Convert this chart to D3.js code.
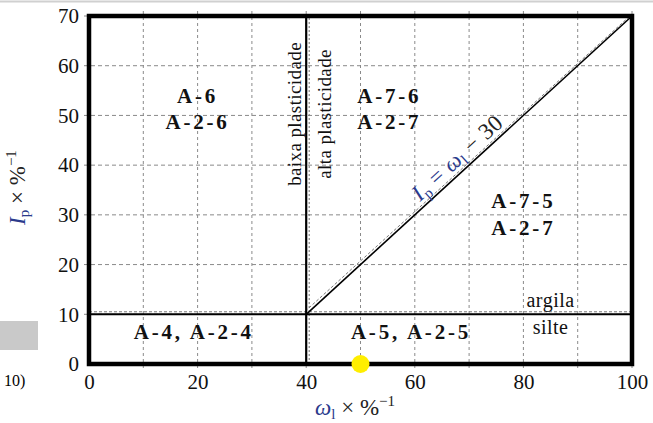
<!DOCTYPE html>
<html>
<head>
<meta charset="utf-8" />
<title>Carta de plasticidade AASHTO</title>
<script src="https://cdn.jsdelivr.net/npm/d3@7"></script>
<style>
body{margin:0;background:#fff;}
</style>
</head>
<body>
<div id="chart"></div>
<script>
var w=653,h=423;
var serif="'Liberation Serif','Times New Roman',serif";

// ticks on both axes
var xTicks=[0,20,40,60,80,100];
var yTicks=[0,10,20,30,40,50,60,70];
var gridX=[10,20,30,40,50,60,70,80,90,100];
var gridY=[10,20,30,40,50,60,70];

// group zones: label lines and where they sit (wl, Ip)
var groupNames=[["A-6","A-2-6"],["A-7-6","A-2-7"],["A-7-5","A-2-7"],["A-4, A-2-4"],["A-5, A-2-5"]];
var groupWl=[20,55.3,80,19.3,59.3];
var groupIp=[52.5,52.5,31.3,5,5];

// boundaries: wl=40, Ip=10, Ip=wl-30
var wlLimit=40, ipLimit=10, lineOffset=30;
var marker=[50,0];

var x=d3.scaleLinear().domain([0,100]).range([89,632]);
var y=d3.scaleLinear().domain([0,70]).range([364,16]);

var svg=d3.select('#chart').append('svg')
  .attr('width',w).attr('height',h)
  .style('font-family',serif);

// bits of the screenshot around the chart
svg.append('line').attr('x1',0).attr('x2',w).attr('y1',1.5).attr('y2',1.5)
  .attr('stroke','#d0d0d0').attr('stroke-width',2);
svg.append('rect').attr('x',0).attr('y',321).attr('width',38).attr('height',29)
  .attr('fill','#c9c9c9');
svg.append('text').attr('x',4).attr('y',386).style('font-size','16px').text('10)');

// grid
svg.append('g').selectAll('line').data(gridX).enter().append('line')
  .attr('x1',function(d){return x(d);}).attr('x2',function(d){return x(d);})
  .attr('y1',y(0)+4).attr('y2',y(70)-5)
  .attr('stroke','#8a8a8a').attr('stroke-width',1).attr('stroke-dasharray','3,3');
svg.append('g').selectAll('line').data(gridY).enter().append('line')
  .attr('x1',x(0)-5).attr('x2',x(100)+5)
  .attr('y1',function(d){return y(d);}).attr('y2',function(d){return y(d);})
  .attr('stroke','#8a8a8a').attr('stroke-width',1).attr('stroke-dasharray','4,3');

// axes (labels only, the frame is drawn below)
var xAxis=svg.append('g').attr('transform','translate(0,'+y(0)+')')
  .call(d3.axisBottom(x).tickValues(xTicks).tickSize(0).tickPadding(9));
var yAxis=svg.append('g').attr('transform','translate('+x(0)+',0)')
  .call(d3.axisLeft(y).tickValues(yTicks).tickSize(0).tickPadding(10));
[xAxis,yAxis].forEach(function(a){
  a.select('.domain').remove();
  a.attr('font-family',null).attr('font-size',null);
  a.selectAll('text').style('font-family',serif)
    .style('font-size','21px').attr('fill','#111');
});
xAxis.selectAll('text').attr('dy','0.75em');

// dashed offset lines next to the boundaries
svg.append('line').attr('x1',x(0)).attr('x2',x(100))
  .attr('y1',y(ipLimit)-2.5).attr('y2',y(ipLimit)-2.5)
  .attr('stroke','#777').attr('stroke-dasharray','3,2');
svg.append('line').attr('x1',x(wlLimit)+3).attr('x2',x(wlLimit)+3)
  .attr('y1',y(0)).attr('y2',y(70))
  .attr('stroke','#777').attr('stroke-dasharray','2,2');
svg.append('line').attr('x1',x(wlLimit)-1).attr('y1',y(wlLimit-lineOffset)-3)
  .attr('x2',x(100)-1).attr('y2',y(100-lineOffset)-1)
  .attr('stroke','#777').attr('stroke-dasharray','3,2');

// boundaries
svg.append('line').attr('x1',x(0)).attr('x2',x(100))
  .attr('y1',y(ipLimit)).attr('y2',y(ipLimit))
  .attr('stroke','#000').attr('stroke-width',2);
svg.append('line').attr('x1',x(wlLimit)).attr('x2',x(wlLimit))
  .attr('y1',y(0)).attr('y2',y(70))
  .attr('stroke','#000').attr('stroke-width',2.2);
svg.append('line').attr('x1',x(wlLimit)).attr('y1',y(wlLimit-lineOffset))
  .attr('x2',x(100)).attr('y2',y(100-lineOffset))
  .attr('stroke','#000').attr('stroke-width',1.6);

// frame
svg.append('rect').attr('x',x(0)).attr('y',y(70))
  .attr('width',x(100)-x(0)).attr('height',y(0)-y(70))
  .attr('fill','none').attr('stroke','#000').attr('stroke-width',4.5);

// group labels
groupNames.forEach(function(lines,i){
  var t=svg.append('text').attr('text-anchor','middle')
    .style('font-weight','bold').style('font-size','21px').style('letter-spacing','2.8px')
    .attr('fill','#111')
    .attr('x',x(groupWl[i])).attr('y',y(groupIp[i]));
  lines.forEach(function(s,j){
    t.append('tspan').attr('x',x(groupWl[i])).attr('dy',j==0?0:'1.25em').text(s);
  });
});

// argila / silte
svg.append('text').attr('x',x(85)).attr('y',y(ipLimit)-7).attr('text-anchor','middle')
  .style('font-size','20px').style('letter-spacing','0.5px').attr('fill','#111').text('argila');
svg.append('text').attr('x',x(85)).attr('y',y(ipLimit)+20).attr('text-anchor','middle')
  .style('font-size','20px').style('letter-spacing','0.5px').attr('fill','#111').text('silte');

// baixa / alta plasticidade
svg.append('text').attr('transform','translate('+(x(wlLimit)-5)+','+y(50.3)+') rotate(-90)')
  .attr('text-anchor','middle').style('font-size','19px').style('letter-spacing','0.4px')
  .attr('fill','#111').text('baixa plasticidade');
svg.append('text').attr('transform','translate('+(x(wlLimit)+25)+','+y(50.3)+') rotate(-90)')
  .attr('text-anchor','middle').style('font-size','19px').style('letter-spacing','0.4px')
  .attr('fill','#111').text('alta plasticidade');

// Ip = wl - 30 label along the line
var ang=Math.atan2(y(wlLimit-lineOffset)-y(100-lineOffset),x(100)-x(wlLimit))*180/Math.PI;
var eq=svg.append('text')
  .attr('transform','translate('+x(69.5)+','+y(69.5-lineOffset)+') rotate('+(-ang)+')')
  .attr('y',-6).attr('text-anchor','middle').style('font-size','23px')
  .style('letter-spacing','0.6px').attr('fill','#2b3a8c');
eq.append('tspan').style('font-style','italic').text('I');
eq.append('tspan').style('font-size','15px').attr('dy',4).text('p');
eq.append('tspan').attr('dy',-4).text(' = ');
eq.append('tspan').style('font-style','italic').text('ω');
eq.append('tspan').style('font-size','15px').attr('dy',4).text('l');
eq.append('tspan').attr('dy',-4).attr('fill','#222').text(' − 30');

// axis titles
var xl=svg.append('text').attr('x',x(49)).attr('y',415).attr('text-anchor','middle')
  .style('font-size','23px').attr('fill','#222');
xl.append('tspan').style('font-style','italic').attr('fill','#2b3a8c').text('ω');
xl.append('tspan').style('font-size','15px').attr('dy',4).attr('fill','#2b3a8c').text('l');
xl.append('tspan').attr('dy',-4).text(' × %');
xl.append('tspan').style('font-size','15px').attr('dy',-9).text('−1');

var yl=svg.append('text').attr('transform','translate(25,'+y(35.5)+') rotate(-90)')
  .attr('text-anchor','middle').style('font-size','23px').attr('fill','#222');
yl.append('tspan').style('font-style','italic').attr('fill','#2b3a8c').text('I');
yl.append('tspan').style('font-size','15px').attr('dy',4).attr('fill','#2b3a8c').text('p');
yl.append('tspan').attr('dy',-4).text(' × %');
yl.append('tspan').style('font-size','15px').attr('dy',-9).text('−1');

// yellow marker
svg.append('circle').attr('cx',x(marker[0])).attr('cy',y(marker[1])).attr('r',9)
  .attr('fill','#ffee00');
</script>
</body>
</html>
